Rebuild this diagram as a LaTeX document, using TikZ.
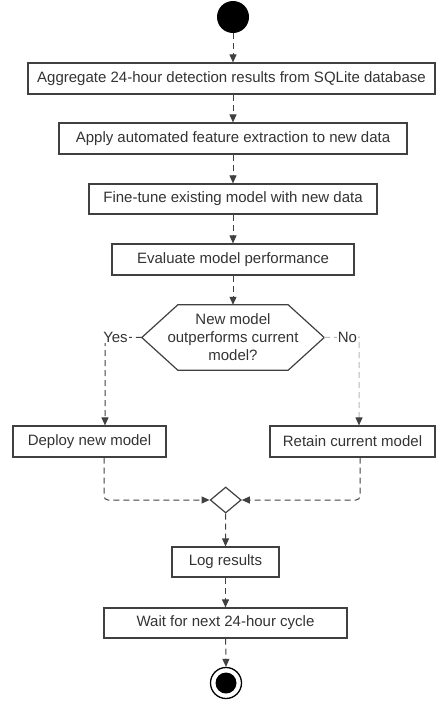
\documentclass[tikz,border=0pt]{standalone}
\usepackage{fontspec}
\setmainfont{Liberation Sans}
\usetikzlibrary{arrows.meta,shapes.geometric}
\definecolor{tinta}{HTML}{333333}
\definecolor{borde}{HTML}{404040}
\definecolor{claro}{HTML}{B8B8B8}

\begin{document}
\begin{tikzpicture}[x=1pt, y=-1pt,
    every node/.style={font=\fontsize{15}{18}\selectfont, text=tinta},
    actividad/.style={rectangle, draw=borde, line width=1.2pt, minimum height=31pt, inner sep=0pt},
    flujo/.style={draw=borde, line width=1pt, dash pattern=on 6pt off 4pt, -{Triangle[length=8pt,width=7pt]}},
    enlace/.style={draw=borde, line width=1pt, dash pattern=on 6pt off 4pt, rounded corners=4pt},
    etiqueta/.style={fill=white, inner sep=1pt}]
    \useasboundingbox (0,0) rectangle (436,701);

    % Inicio
    \node[circle, fill=black, minimum size=32pt, inner sep=0pt] (inicio) at (233,17) {};

    % Actividades
    \node[actividad, minimum width=407pt] (agregar) at (231.5,78.5) {Aggregate 24-hour detection results from SQLite database};
    \node[actividad, minimum width=348pt] (extraer) at (233,138.5) {Apply automated feature extraction to new data};
    \node[actividad, minimum width=288pt, minimum height=30pt] (ajustar) at (233,199) {Fine-tune existing model with new data};
    \node[actividad, minimum width=242pt] (evaluar) at (233,259.5) {Evaluate model performance};

    % Decision
    \node[minimum width=182pt, minimum height=65pt, align=center, inner sep=0pt] (decision) at (233,337.5) {New model\\outperforms current\\model?};
    \draw[borde, line width=1.2pt] (decision.west) -- ([xshift=36pt]decision.north west) -- ([xshift=-36pt]decision.north east)
        -- (decision.east) -- ([xshift=-36pt]decision.south east) -- ([xshift=36pt]decision.south west) -- cycle;

    \node[actividad, minimum width=153pt] (desplegar) at (89.5,441.5) {Deploy new model};
    \node[actividad, minimum width=165pt] (retener) at (352.5,441.5) {Retain current model};

    \node[diamond, draw=borde, line width=1.2pt, minimum width=31pt, minimum height=26pt, inner sep=0pt] (union) at (225.7,500) {};

    \node[actividad, minimum width=107pt, minimum height=30pt] (registrar) at (225.5,562) {Log results};
    \node[actividad, minimum width=243pt, minimum height=30pt] (esperar) at (225.5,623) {Wait for next 24-hour cycle};

    % Fin
    \node[circle, draw=black, line width=1.3pt, minimum size=31pt, inner sep=0pt] (fin) at (226,683) {};
    \node[circle, fill=black, minimum size=21pt, inner sep=0pt] (finpunto) at (fin) {};

    % Esquinas
    \coordinate (si) at (105,337);
    \coordinate (no) at (359,337);
    \coordinate (siabajo) at (104,500);
    \coordinate (noabajo) at (360,500);

    % Flechas
    \draw[flujo] (inicio) -- (inicio |- agregar.north);
    \draw[flujo] (agregar.south -| inicio) -- (extraer.north);
    \draw[flujo] (extraer) -- (ajustar.north);
    \draw[flujo] (ajustar) -- (evaluar.north);
    \draw[flujo] (evaluar) -- (decision.north);
    \draw[flujo] (decision.west) -- (si) -- (si |- desplegar.north);
    \draw[flujo, draw=claro, -{Triangle[length=8pt,width=7pt,color=borde]}] (decision.east) -- (no) -- (no |- retener.north);
    \draw[enlace, -{Triangle[length=8pt,width=7pt]}] (siabajo |- desplegar.south) -- (siabajo) -- (union.west);
    \draw[enlace, -{Triangle[length=8pt,width=7pt]}] (noabajo |- retener.south) -- (noabajo) -- (union.east);
    \draw[flujo] (union.south) -- (registrar.north);
    \draw[flujo] (registrar) -- (esperar.north);
    \draw[flujo] (esperar) -- (fin.north);

    % Etiquetas
    \node[etiqueta] (etsi) at (115.5,337) {Yes};
    \node[etiqueta] (etno) at (347.5,337) {No};
\end{tikzpicture}
\end{document}
